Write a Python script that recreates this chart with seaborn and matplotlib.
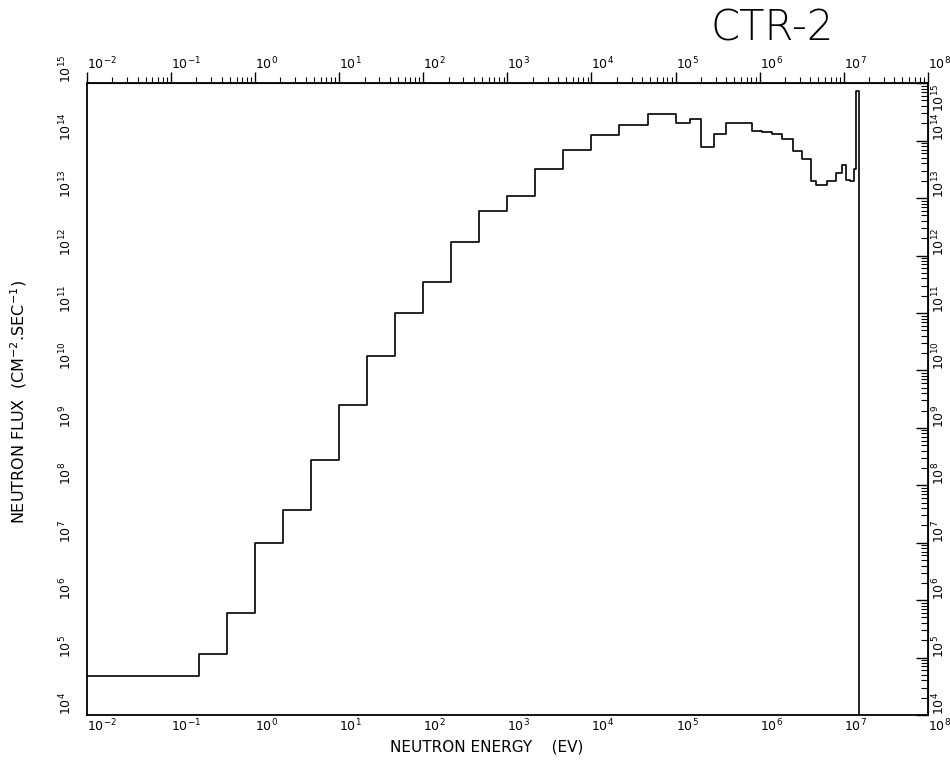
import matplotlib
matplotlib.use("Agg")
import matplotlib.pyplot as plt
import matplotlib.ticker as mticker
import numpy as np
import pandas as pd
import seaborn as sns

# group boundaries (eV)
energy_edges = [1e-2, 0.215, 0.464, 1.0, 2.15, 4.64, 10.0, 21.5, 46.4, 100.0,
                215.0, 464.0, 1.0e3, 2.15e3, 4.64e3, 1.0e4, 2.15e4, 4.64e4, 1.0e5,
                1.47e5, 2.03e5, 2.9e5, 4.0e5, 8.2e5, 1.07e6, 1.41e6, 1.86e6, 2.52e6,
                3.22e6, 4.05e6, 4.64e6, 6.4e6, 8.05e6, 9.5e6, 1.06e7, 1.18e7, 1.33e7,
                1.41e7, 1.53e7]

# group flux (n / cm2 s)
flux_levels = [4.7e4, 1.15e5, 5.9e5, 9.8e6, 3.7e7, 2.7e8, 2.5e9, 1.8e10, 1.0e11,
               3.5e11, 1.7e12, 6.0e12, 1.1e13, 3.2e13, 6.9e13, 1.23e14, 1.9e14,
               2.9e14, 2.0e14, 2.4e14, 7.8e13, 1.3e14, 2.0e14, 1.5e14, 1.4e14,
               1.3e14, 1.05e14, 6.5e13, 4.7e13, 2.0e13, 1.7e13, 2.0e13, 2.7e13,
               3.8e13, 2.1e13, 2.0e13, 3.2e13, 7.4e14]

flux_floor = 1e4

x_ticks = [1e-2, 1e-1, 1e0, 1e1, 1e2, 1e3, 1e4, 1e5, 1e6, 1e7, 1e8]
x_tick_labels = [r'$10^{-2}$', r'$10^{-1}$', r'$10^{0}$', r'$10^{1}$', r'$10^{2}$',
                 r'$10^{3}$', r'$10^{4}$', r'$10^{5}$', r'$10^{6}$', r'$10^{7}$',
                 r'$10^{8}$']
y_ticks = [1e4, 1e5, 1e6, 1e7, 1e8, 1e9, 1e10, 1e11, 1e12, 1e13, 1e14, 1e15]
y_tick_labels = [r'$10^{4}$', r'$10^{5}$', r'$10^{6}$', r'$10^{7}$', r'$10^{8}$',
                 r'$10^{9}$', r'$10^{10}$', r'$10^{11}$', r'$10^{12}$', r'$10^{13}$',
                 r'$10^{14}$', r'$10^{15}$']

sns.set_style("white")
plt.rcParams['font.family'] = ['DejaVu Sans']
plt.rcParams['mathtext.fontset'] = 'dejavusans'
plt.rcParams['text.color'] = 'black'
plt.rcParams['xtick.color'] = 'black'
plt.rcParams['ytick.color'] = 'black'
plt.rcParams['axes.labelcolor'] = 'black'

df = pd.DataFrame({'energy': energy_edges,
                   'flux': flux_levels + [flux_floor]})

fig = plt.figure(figsize=(9.5, 7.64), dpi=100)
ax = fig.add_axes([0.0916, 0.0641, 0.885, 0.827])

sns.lineplot(data=df, x='energy', y='flux', drawstyle='steps-post',
             color='black', lw=1.2, estimator=None, sort=False, ax=ax)

ax.set_xscale('log')
ax.set_yscale('log')
ax.set_xlim(1e-2, 1e8)
ax.set_ylim(1e4, 1e15)

for spine in ax.spines.values():
    spine.set_linewidth(1.3)
    spine.set_color('black')

def minor_loc():
    return mticker.LogLocator(base=10, subs=np.arange(2, 10), numticks=100)

# bottom / left
ax.set_xticks(x_ticks)
ax.set_xticklabels(x_tick_labels, ha='left', fontsize=9)
ax.xaxis.set_minor_locator(minor_loc())
ax.xaxis.set_minor_formatter(mticker.NullFormatter())
ax.set_yticks(y_ticks)
ax.set_yticklabels(y_tick_labels, rotation=90, va='bottom', fontsize=9)
ax.yaxis.set_minor_locator(minor_loc())
ax.yaxis.set_minor_formatter(mticker.NullFormatter())
ax.tick_params(axis='x', which='major', direction='in', length=9, width=1, pad=2)
ax.tick_params(axis='x', which='minor', direction='in', length=5, width=0.8)
ax.tick_params(axis='y', which='major', direction='out', length=8, width=1, pad=1)
ax.tick_params(axis='y', which='minor', direction='out', length=4, width=0.8)

# top / right copies
top = ax.secondary_xaxis('top')
top.set_xticks(x_ticks)
top.set_xticklabels(x_tick_labels, ha='left', fontsize=9)
top.xaxis.set_minor_locator(minor_loc())
top.xaxis.set_minor_formatter(mticker.NullFormatter())
top.tick_params(axis='x', which='major', direction='out', length=8, width=1, pad=0)
top.tick_params(axis='x', which='minor', direction='out', length=4, width=0.8)

right = ax.secondary_yaxis('right')
right.set_yticks(y_ticks)
right.set_yticklabels(y_tick_labels, rotation=90, va='bottom', fontsize=9)
right.yaxis.set_minor_locator(minor_loc())
right.yaxis.set_minor_formatter(mticker.NullFormatter())
right.tick_params(axis='y', which='major', direction='in', length=9, width=1, pad=2)
right.tick_params(axis='y', which='minor', direction='in', length=5, width=0.8)
# keep the top-right 10^15 under the spine so it does not sit on the 10^8 label
right.get_yticklabels()[-1].set_va('top')

ax.set_xlabel('')
ax.set_ylabel('')
fig.text(0.512, 0.022, 'NEUTRON ENERGY    (EV)', ha='center', va='center', fontsize=11)
fig.text(0.02, 0.474, r'NEUTRON FLUX  (CM$^{-2}$.SEC$^{-1}$)', rotation=90,
         ha='center', va='center', fontsize=11.5)
fig.text(0.813, 0.964, 'CTR-2', ha='center', va='center', fontsize=30,
         fontweight='light')

fig.savefig('out.png', dpi=100)
